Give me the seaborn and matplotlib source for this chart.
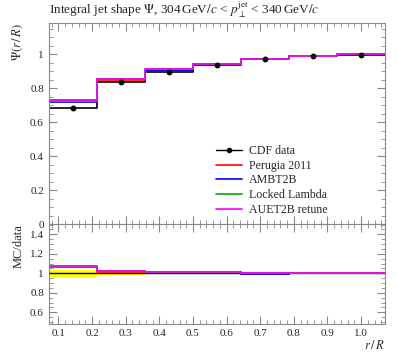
import numpy as np
import pandas as pd
import seaborn as sns
import matplotlib.pyplot as plt
from matplotlib.ticker import MultipleLocator
from matplotlib.lines import Line2D

# r/R bin edges and measured / simulated integral jet shape
bin_edges = [0.0714, 0.2143, 0.3571, 0.5, 0.6429, 0.7857, 0.9286, 1.0714]
bin_centers = [0.1429, 0.2857, 0.4286, 0.5714, 0.7143, 0.8571, 1.0]
cdf_data = [0.681, 0.835, 0.898, 0.935, 0.972, 0.990, 0.998]
cdf_err = [0.010, 0.009, 0.007, 0.005, 0.004, 0.003, 0.002]
band_rel = [0.035, 0.016, 0.012, 0.010, 0.003, 0.002, 0.001]
perugia = [0.730, 0.850, 0.910, 0.945, 0.970, 0.990, 1.0]
ambt2b = [0.722, 0.853, 0.910, 0.945, 0.970, 0.990, 1.0]
locked = [0.726, 0.852, 0.911, 0.945, 0.971, 0.990, 1.0]
auet2b = [0.726, 0.852, 0.911, 0.945, 0.971, 0.990, 1.0]

models = [("Perugia 2011", perugia, "#ff0000"),
          ("AMBT2B", ambt2b, "#0000ff"),
          ("Locked Lambda", locked, "#00aa00"),
          ("AUET2B retune", auet2b, "#ff00ff")]

sns.set_style("ticks")
plt.rcParams['font.family'] = ['Liberation Serif', 'DejaVu Serif']
plt.rcParams['mathtext.fontset'] = 'stix'
plt.rcParams['font.size'] = 9


def step_df(vals):
    return pd.DataFrame({"x": bin_edges, "y": list(vals) + [vals[-1]]})


fig = plt.figure(figsize=(3.97, 3.58), dpi=100)
ax = fig.add_axes([0.123, 0.374, 0.847, 0.562])
rax = fig.add_axes([0.123, 0.095, 0.847, 0.279], sharex=ax)

# main panel
sns.lineplot(data=step_df(cdf_data), x="x", y="y", ax=ax, color="black",
             drawstyle="steps-post", estimator=None, sort=False, lw=1.2)
ax.errorbar(bin_centers, cdf_data, yerr=cdf_err, fmt="o", color="black",
            ms=3.2, lw=1, label="CDF data")
for name, vals, col in models:
    sns.lineplot(data=step_df(vals), x="x", y="y", ax=ax, color=col,
                 drawstyle="steps-post", estimator=None, sort=False, lw=1.2,
                 label=name)

h, l = ax.get_legend_handles_labels()
data_handle = Line2D([], [], color="black", marker="o", ms=3, lw=1)
handles = [data_handle] + [h[l.index(m[0])] for m in models]
labels = ["CDF data"] + [m[0] for m in models]
ax.legend(handles, labels, loc="lower right",
          bbox_to_anchor=(0.855, 0.0), frameon=False, fontsize=8.6,
          handlelength=2.2, handletextpad=0.6, labelspacing=0.22,
          borderaxespad=0.3)

ax.set_xlim(0.0714, 1.0714)
ax.set_ylim(0, 1.185)
ax.yaxis.set_minor_locator(MultipleLocator(0.05))
ax.set_yticks([0, 0.2, 0.4, 0.6, 0.8, 1])
ax.set_yticklabels(["0", "0.2", "0.4", "0.6", "0.8", "1"])
ax.set_xlabel("")
ax.set_ylabel(r"$\Psi(r\,/\,R)$", loc="top")
ax.tick_params(labelbottom=False)
ax.set_title(r"Integral jet shape $\Psi$, 304$\,$GeV$/c$ < $p_\perp^\mathrm{jet}$ < 340$\,$GeV$/c$",
             loc="left", fontsize=9.5, pad=6)

# ratio panel
ratio_df = pd.DataFrame({"x": bin_edges, "y": [1.0] * len(bin_edges)})
lo = [1 - b for b in band_rel]
hi = [1 + b for b in band_rel]
rax.fill_between(bin_edges, lo + [lo[-1]], hi + [hi[-1]], step="post",
                 color="#ffff00", lw=0)
sns.lineplot(data=ratio_df, x="x", y="y", ax=rax, color="black",
             estimator=None, sort=False, lw=1)
for name, vals, col in models:
    r = [v / d for v, d in zip(vals, cdf_data)]
    sns.lineplot(data=step_df(r), x="x", y="y", ax=rax, color=col,
                 drawstyle="steps-post", estimator=None, sort=False, lw=1.2)

rax.set_ylim(0.48, 1.505)
rax.set_yticks([0.6, 0.8, 1.0, 1.2, 1.4])
rax.set_yticklabels(["0.6", "0.8", "1", "1.2", "1.4"])
rax.yaxis.set_minor_locator(MultipleLocator(0.05))
rax.set_xticks([0.1, 0.2, 0.3, 0.4, 0.5, 0.6, 0.7, 0.8, 0.9, 1.0])
rax.set_xticklabels(["0.1", "0.2", "0.3", "0.4", "0.5", "0.6", "0.7", "0.8", "0.9", "1.0"])
rax.xaxis.set_minor_locator(MultipleLocator(0.02))
rax.set_xlabel(r"$r\,/\,R$", loc="right", labelpad=1)
rax.set_ylabel("MC/data", loc="top")

for a in (ax, rax):
    a.tick_params(which="both", direction="in", top=True, right=True,
                  color="#888888", labelsize=8)
    a.tick_params(which="major", length=6)
    a.tick_params(which="minor", length=3)
    for s in a.spines.values():
        s.set_color("#888888")
        s.set_linewidth(0.8)

fig.savefig("out.png", dpi=100)
